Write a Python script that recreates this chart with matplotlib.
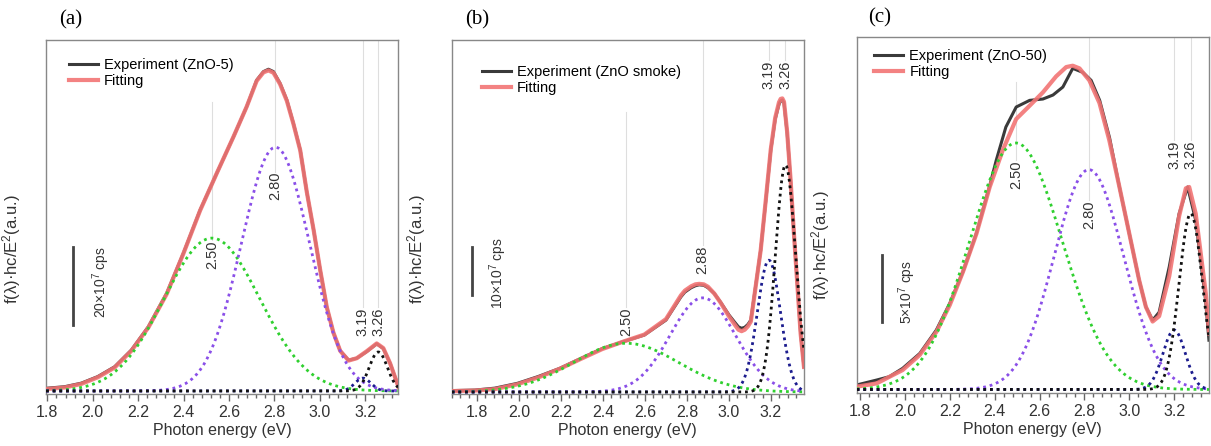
import numpy as np
import matplotlib.pyplot as plt
from matplotlib.ticker import MultipleLocator

plt.rcParams['font.family'] = ['Liberation Sans', 'DejaVu Sans']
plt.rcParams['mathtext.default'] = 'regular'

# measured spectra and fitted envelopes, y in units of 10^7 cps
exp_a_x = [1.795, 1.876, 1.949, 2.022, 2.096, 2.17, 2.245, 2.326, 2.399, 2.473, 2.546, 2.62,
           2.678, 2.722, 2.752, 2.774, 2.796, 2.825, 2.855, 2.884, 2.914, 2.943, 2.973,
           3.002, 3.031, 3.06, 3.09, 3.127, 3.163, 3.207, 3.251, 3.28, 3.31, 3.347]
exp_a_y = [0.7, 1.1, 2.0, 3.7, 6.2, 10.5, 16.5, 25.1, 35.3, 46.4, 55.8, 65.2,
           72.9, 79.7, 81.9, 82.5, 81.9, 78.9, 74.6, 68.6, 61.8, 51.0, 41.3,
           31.0, 21.5, 15.0, 10.3, 7.9, 8.4, 10.1, 12.1, 10.9, 7.1, 1.1]
fit_a_x = exp_a_x
fit_a_y = [0.5, 0.9, 1.8, 3.5, 6.0, 10.3, 16.3, 24.9, 35.2, 46.3, 55.8, 65.2,
           72.9, 79.5, 81.7, 82.2, 81.6, 78.7, 74.4, 68.5, 61.7, 51.0, 41.3,
           31.0, 21.5, 15.0, 10.3, 7.8, 8.4, 10.2, 12.2, 11.0, 7.1, 1.0]

exp_b_x = [1.688, 1.79, 1.885, 1.993, 2.091, 2.194, 2.297, 2.397, 2.494, 2.597, 2.70, 2.771,
           2.79, 2.82, 2.84, 2.858, 2.88, 2.90, 2.93, 2.96, 3.001, 3.03, 3.045, 3.06, 3.075,
           3.09, 3.104, 3.151, 3.175, 3.199, 3.22, 3.238, 3.246, 3.254, 3.262, 3.277, 3.293,
           3.309, 3.341, 3.357]
exp_b_y = [0.3, 0.4, 0.8, 1.8, 3.2, 4.9, 7.0, 9.0, 10.4, 11.8, 14.9, 19.7,
           20.7, 21.6, 22.0, 22.2, 22.1, 21.6, 20.4, 18.6, 15.9, 14.3, 13.5, 13.2, 13.4,
           14.0, 14.9, 29.4, 39.5, 50.1, 56.5, 59.6, 60.3, 60.5, 59.8, 53.6, 44.0,
           32.9, 12.1, 5.2]
fit_b_x = exp_b_x
fit_b_y = [0.2, 0.3, 0.6, 1.6, 3.0, 4.8, 6.9, 8.9, 10.4, 11.9, 15.1, 20.0,
           21.0, 21.9, 22.3, 22.4, 22.3, 21.8, 20.4, 18.5, 15.6, 13.8, 12.9, 12.6, 12.9,
           13.6, 14.6, 29.4, 39.7, 50.3, 56.8, 60.0, 60.7, 60.8, 60.1, 53.8, 44.1,
           32.9, 12.1, 5.2]

exp_c_x = [1.785, 1.874, 1.93, 1.99, 2.066, 2.14, 2.20, 2.26, 2.318, 2.378, 2.407, 2.45,
           2.496, 2.556, 2.615, 2.66, 2.704, 2.748, 2.793, 2.83, 2.868, 2.912, 2.956, 3.0,
           3.044, 3.074, 3.104, 3.133, 3.178, 3.222, 3.26, 3.296, 3.34, 3.355]
exp_c_y = [0.34, 0.71, 0.96, 1.59, 2.7, 4.46, 6.47, 8.9, 11.7, 15.3, 17.2, 19.7,
           21.2, 21.7, 21.8, 22.1, 22.7, 24.1, 23.8, 23.2, 21.7, 18.9, 15.2, 11.7,
           8.2, 6.2, 5.2, 5.8, 9.2, 13.2, 15.2, 12.7, 6.7, 3.7]
fit_c_x = [1.785, 1.874, 1.99, 2.066, 2.141, 2.20, 2.259, 2.319, 2.378, 2.437, 2.496, 2.556,
           2.615, 2.674, 2.719, 2.748, 2.778, 2.822, 2.867, 2.911, 2.956, 3.0, 3.044, 3.074,
           3.104, 3.133, 3.178, 3.222, 3.252, 3.267, 3.296, 3.341, 3.356]
fit_c_y = [0.21, 0.46, 1.46, 2.59, 4.34, 6.34, 8.84, 11.7, 15.2, 18.0, 20.3, 21.3,
           22.3, 23.5, 24.2, 24.3, 24.1, 23.2, 21.5, 18.7, 15.2, 11.7, 8.2, 6.2,
           5.1, 5.5, 8.5, 13.0, 15.1, 15.2, 13.2, 7.2, 4.2]

# gaussian components: centre (eV), height, width (eV)
centers_a = [2.525, 2.805, 3.19, 3.258]
heights_a = [39.2, 62.5, 3.3, 10.0]
widths_a = [0.21, 0.15, 0.035, 0.04]
labels_a = ['2.50', '2.80', '3.19', '3.26']

centers_b = [2.51, 2.875, 3.19, 3.269]
heights_b = [10.1, 19.5, 27.3, 47.0]
widths_b = [0.25, 0.155, 0.055, 0.048]
labels_b = ['2.50', '2.88', '3.19', '3.26']

centers_c = [2.495, 2.82, 3.2, 3.274]
heights_c = [18.5, 16.5, 4.46, 13.2]
widths_c = [0.205, 0.155, 0.05, 0.052]
labels_c = ['2.50', '2.80', '3.19', '3.26']

samples = ['Experiment (ZnO-5)', 'Experiment (ZnO smoke)', 'Experiment (ZnO-50)']
scale_bars = [20, 10, 5]

comp_colors = ['#2fd02f', '#8a4fe8', '#1c1c8e', '#111111']

fig = plt.figure(figsize=(12.11, 4.46), dpi=100)

panels = [
    dict(rect=[0.038, 0.1166, 0.2907, 0.7937], xlim=(1.794, 3.345), ylim=(-0.77, 90.0),
         ex=(exp_a_x, exp_a_y), fit=(fit_a_x, fit_a_y),
         pk=(centers_a, heights_a, widths_a, labels_a),
         ann=[(74.1, 38.7), (90, 56.2), (90, 21.5), (90, 21.5)],
         bar=(1.915, 16.9), bartxt=(2.036, 27.8), leg=(0.065, 0.95), ylab=(-0.066, 0.41),
         tag=(71, 20)),
    dict(rect=[0.373, 0.1166, 0.2909, 0.7937], xlim=(1.68, 3.357), ylim=(-0.41, 72.9),
         ex=(exp_b_x, exp_b_y), fit=(fit_b_x, fit_b_y),
         pk=(centers_b, heights_b, widths_b, labels_b),
         ann=[(58.0, 17.6), (72.9, 30.4), (72.9, 68.7), (72.9, 68.7)],
         bar=(1.778, 20.1), bartxt=(1.90, 24.6), leg=(0.085, 0.93), ylab=(-0.067, 0.41),
         tag=(477, 20)),
    dict(rect=[0.7074, 0.1195, 0.2909, 0.798], xlim=(1.785, 3.355), ylim=(-0.24, 26.47),
         ex=(exp_c_x, exp_c_y), fit=(fit_c_x, fit_c_y),
         pk=(centers_c, heights_c, widths_c, labels_c),
         ann=[(23.1, 17.2), (26.47, 14.2), (26.47, 18.7), (26.47, 18.7)],
         bar=(1.899, 5.1), bartxt=(2.011, 7.3), leg=(0.05, 0.965), ylab=(-0.07, 0.415),
         tag=(880, 18)),
]

for i, (p, name, bar) in enumerate(zip(panels, samples, scale_bars)):
    ax = fig.add_axes(p['rect'])
    x = np.linspace(p['xlim'][0], p['xlim'][1], 600)
    centers, heights, widths, labels = p['pk']

    # guide lines and peak labels
    for c, lab, (ytop, ylab) in zip(centers, labels, p['ann']):
        ax.plot([c, c], [ytop, ylab], color='#dedede', lw=0.8, zorder=0)
        ax.text(c, ylab, lab, rotation=90, ha='center', va='top', fontsize=10.5,
                color='#333333')

    ax.plot(p['ex'][0], p['ex'][1], color='#3a3a3a', lw=2.2, label=name, zorder=2)
    ax.plot(p['fit'][0], p['fit'][1], color='#f27474', lw=3, alpha=0.9, label='Fitting',
            zorder=3)
    for c, h, w, col in zip(centers, heights, widths, comp_colors):
        ax.plot(x, h * np.exp(-(x - c) ** 2 / (2 * w ** 2)), color=col, lw=2,
                linestyle=(0, (1, 1.4)), zorder=4)

    # scale bar
    bx, by = p['bar']
    ax.plot([bx, bx], [by, by + bar], color='#444444', lw=2)
    ax.text(p['bartxt'][0], p['bartxt'][1], '%d\u00d710$^{7}$ cps' % bar, rotation=90,
            ha='center', va='center', fontsize=10, color='#333333')

    ax.set_xlim(p['xlim'])
    ax.set_ylim(p['ylim'])
    ax.xaxis.set_major_locator(MultipleLocator(0.2))
    ax.xaxis.set_minor_locator(MultipleLocator(0.04))
    ax.xaxis.set_major_formatter(lambda v, pos: '%.1f' % v)
    ax.tick_params(axis='x', which='major', direction='out', length=5, width=1,
                   color='#666666', labelsize=11.5, labelcolor='#333333', pad=3)
    ax.tick_params(axis='x', which='minor', direction='out', length=3, width=1,
                   color='#666666')
    ax.set_yticks([])
    for s in ax.spines.values():
        s.set_color('#888888')
        s.set_linewidth(1)
    ax.set_xlabel('Photon energy (eV)', fontsize=11.5, color='#333333', labelpad=2)
    ax.set_ylabel('f(\u03bb)\u00b7hc/E$^{2}$(a.u.)', fontsize=12, color='#333333')
    ax.yaxis.set_label_coords(*p['ylab'])

    ax.legend(loc='upper left', bbox_to_anchor=p['leg'], frameon=False, fontsize=10.5,
              handlelength=2.0, handletextpad=0.4, labelspacing=0.15, borderaxespad=0,
              borderpad=0)

    fig.text(p['tag'][0] / 1211, 1 - p['tag'][1] / 446, '(%s)' % 'abc'[i],
             fontsize=15, family='Liberation Serif', ha='center', va='center')

fig.savefig('out.png', dpi=100)
